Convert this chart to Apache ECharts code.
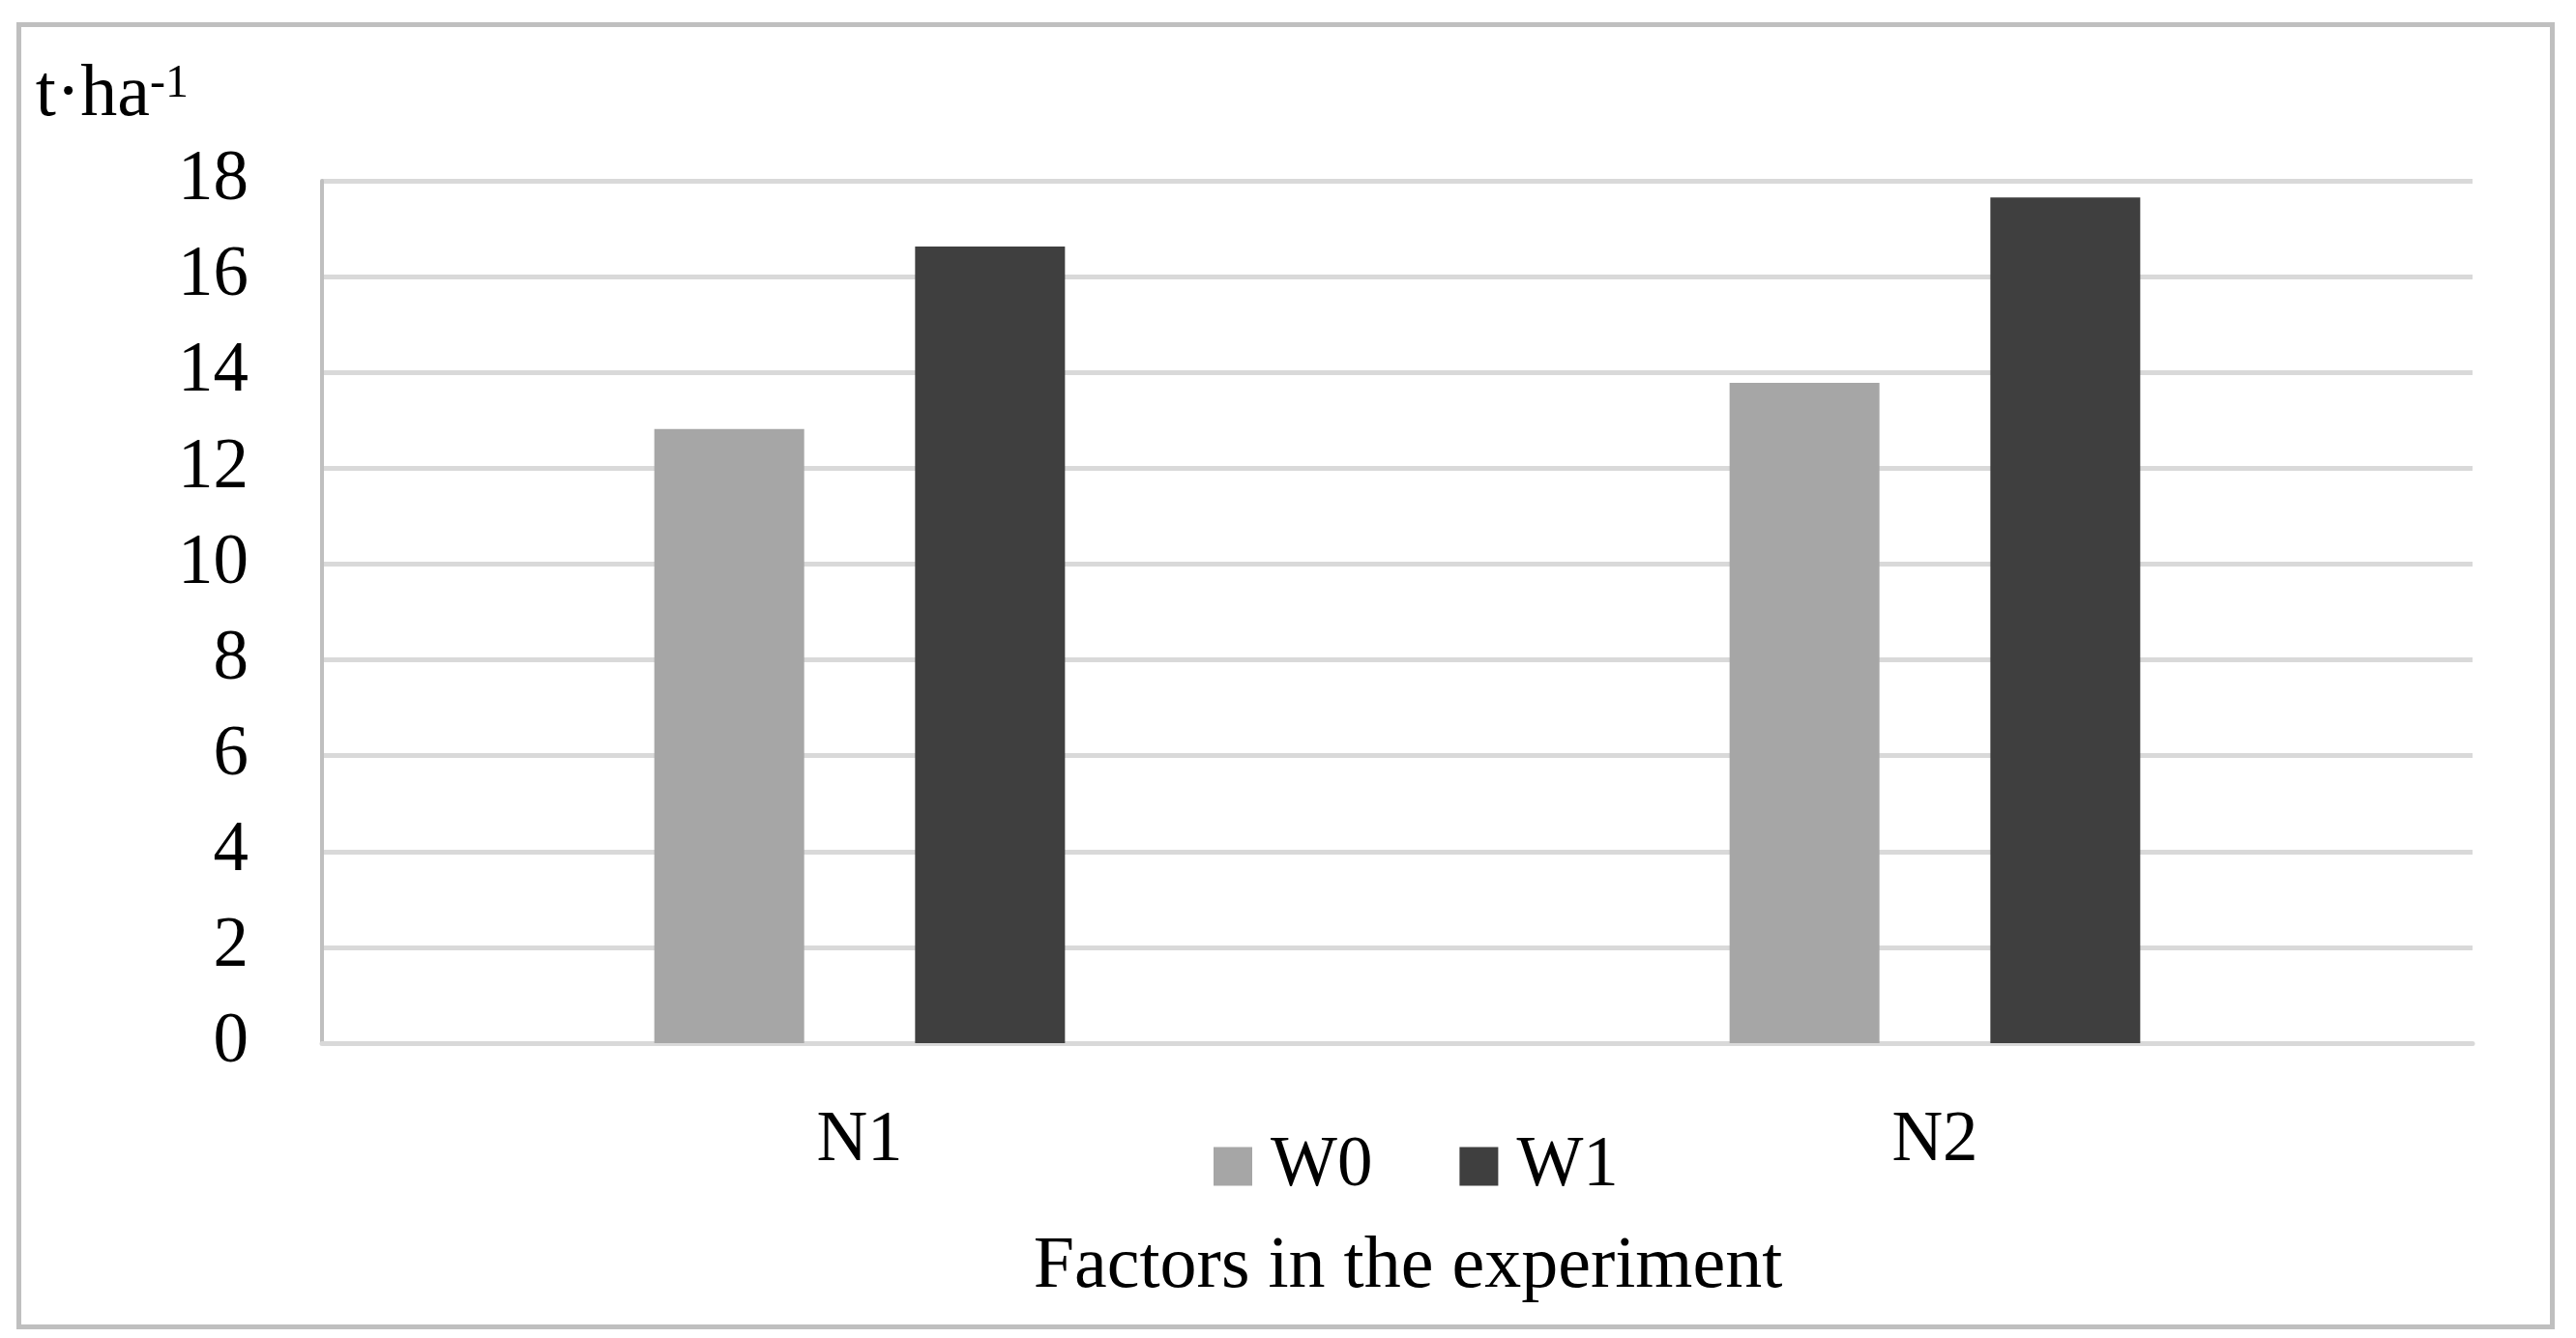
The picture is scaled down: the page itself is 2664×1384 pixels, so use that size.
<!DOCTYPE html>
<html>
<head>
<meta charset="utf-8">
<script src="https://cdn.jsdelivr.net/npm/echarts@6/dist/echarts.min.js"></script>
<style>html,body{margin:0;padding:0;background:#fff}#c{width:2664px;height:1384px}</style>
</head>
<body>
<div id="c"></div>
<script>
var categories = ['N1', 'N2'];
var seriesNames = ['W0', 'W1'];
var w0Values = [12.82, 13.78];
var w1Values = [16.63, 17.65];
var yTicks = { min: 0, max: 18, interval: 2 };
var colors = ['#a6a6a6', '#3f3f3f'];

var FONT = 'Liberation Serif';
var FS = 73;
var chart = echarts.init(document.getElementById('c'), null, { renderer: 'canvas' });
chart.setOption({
  backgroundColor: '#ffffff',
  animation: false,
  graphic: [{
    type: 'rect',
    shape: { x: 19.5, y: 25.5, width: 2620, height: 1347 },
    style: { fill: 'none', stroke: '#bfbfbf', lineWidth: 5 }
  }],
  grid: { left: 333, right: 107, top: 187, bottom: 305, containLabel: false },
  legend: {
    data: seriesNames,
    left: 1250,
    top: 1165,
    itemWidth: 40,
    itemHeight: 40,
    itemGap: 90,
    icon: 'rect',
    textStyle: { fontFamily: FONT, fontSize: FS, color: '#000', lineHeight: 72, padding: [0, 0, 0, 14] }
  },
  xAxis: {
    type: 'category',
    data: categories,
    name: 'Factors in the experiment',
    nameLocation: 'middle',
    nameGap: 196,
    nameTextStyle: { fontFamily: FONT, fontSize: FS + 3, color: '#000', lineHeight: 72, padding: [0, 0, 0, 22] },
    axisLine: { show: true, lineStyle: { color: '#d9d9d9', width: 5 } },
    axisTick: { show: false },
    axisLabel: { fontFamily: FONT, fontSize: FS, color: '#000', lineHeight: 72, margin: 66 }
  },
  yAxis: {
    type: 'value',
    min: yTicks.min,
    max: yTicks.max,
    interval: yTicks.interval,
    name: '{a|t·ha}{b|-1}',
    nameLocation: 'end',
    nameGap: 52,
    nameTextStyle: {
      align: 'right',
      padding: [0, 138, 0, 0],
      rich: {
        a: { fontFamily: FONT, fontSize: FS + 3, color: '#000', lineHeight: 72 },
        b: { fontFamily: FONT, fontSize: 48, color: '#000', lineHeight: 48, verticalAlign: 'top' }
      }
    },
    axisLine: { show: true, lineStyle: { color: '#bfbfbf', width: 4 } },
    axisTick: { show: false },
    axisLabel: { fontFamily: FONT, fontSize: FS, color: '#000', margin: 76 },
    splitLine: { show: true, lineStyle: { color: '#d9d9d9', width: 5 } }
  },
  series: [
    { name: seriesNames[0], type: 'bar', data: w0Values, barWidth: 155, barGap: '74%', itemStyle: { color: colors[0] } },
    { name: seriesNames[1], type: 'bar', data: w1Values, barWidth: 155, barGap: '74%', itemStyle: { color: colors[1] } }
  ]
});
</script>
</body>
</html>
